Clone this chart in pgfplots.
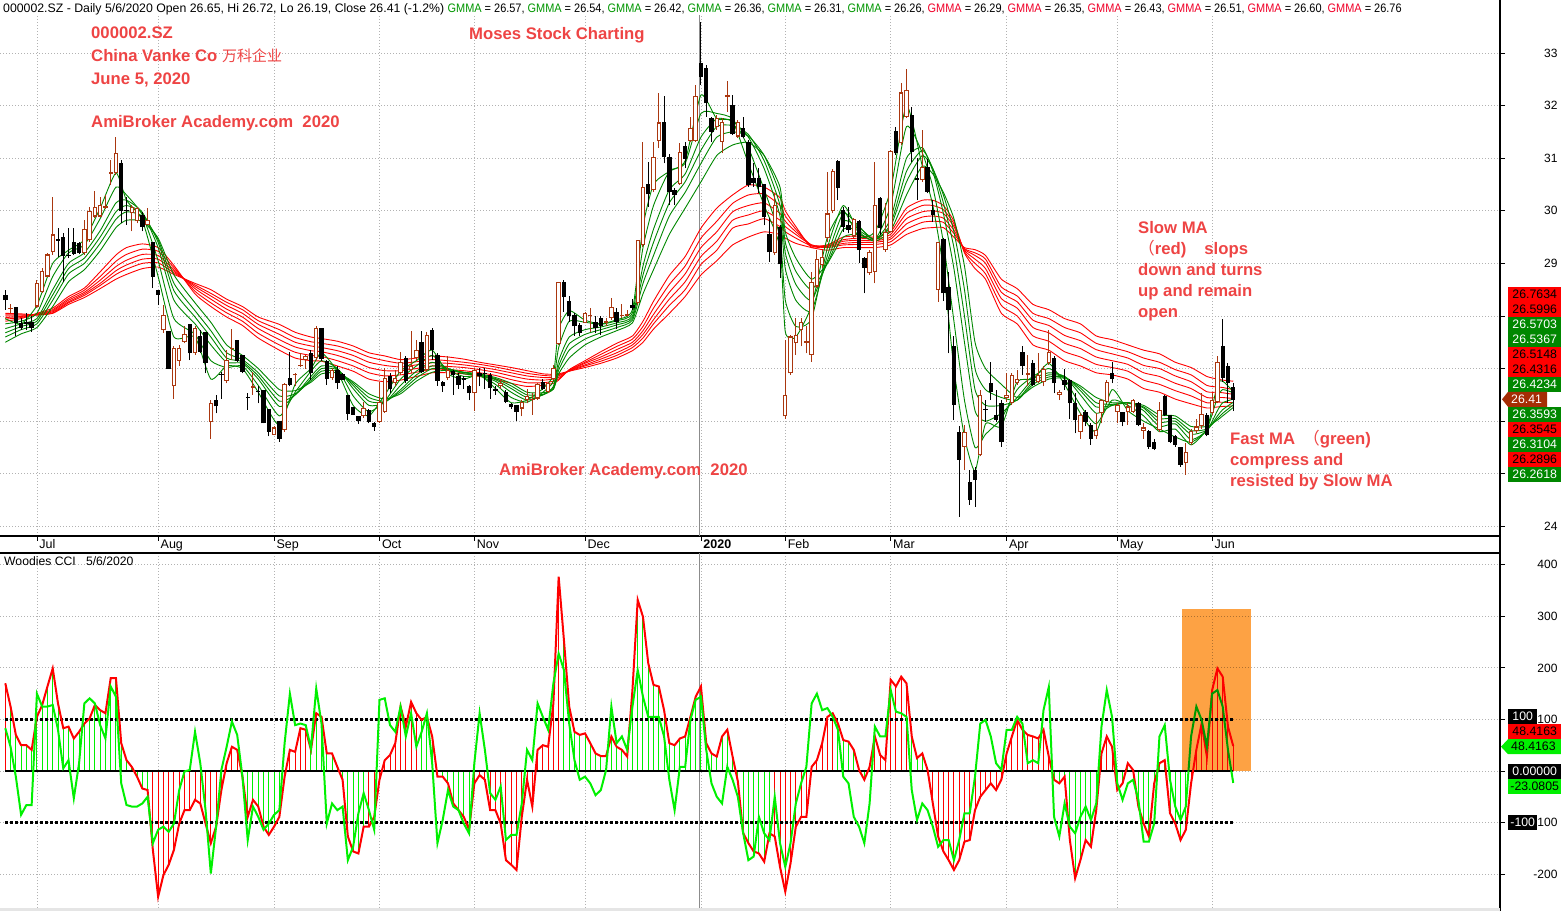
\documentclass[border=0pt]{standalone}
\usepackage{pgfplots}
\pgfplotsset{compat=1.18}
\usepackage{pgfplotstable}
\usepackage{graphicx}
\usepackage{fontspec}
\setmainfont{Liberation Sans}
\newfontfamily\cjk{Noto Sans CJK SC}

\definecolor{candlebrown}{RGB}{170,55,15}
\definecolor{emagreen}{RGB}{0,135,0}
\definecolor{emared}{RGB}{255,0,0}
\definecolor{ccired}{RGB}{255,0,0}
\definecolor{ccigreen}{RGB}{0,240,0}
\definecolor{annot}{RGB}{238,68,68}
\definecolor{hdrgreen}{RGB}{0,150,0}
\definecolor{hdrred}{RGB}{240,0,40}
\definecolor{boxgreen}{RGB}{0,135,0}
\definecolor{boxbrown}{RGB}{165,45,5}
\definecolor{boxorange}{RGB}{253,162,68}

% daily candles: index, open, high, low, close
\pgfplotstableread{
i o h l c
0 28.40 28.50 28.12 28.30
1 28.13 28.22 28.05 28.16
2 28.17 28.18 27.61 27.87
3 27.86 27.96 27.73 27.77
4 27.89 28.05 27.73 27.84
5 27.88 27.99 27.70 27.78
6 28.18 28.69 28.15 28.62
7 28.46 28.92 28.43 28.86
8 28.75 29.19 28.74 29.17
9 29.21 30.26 29.16 29.55
10 29.46 29.67 29.13 29.43
11 29.50 29.57 28.65 29.14
12 29.16 29.67 29.10 29.14
13 29.40 29.67 29.16 29.18
14 29.38 29.40 29.17 29.19
15 29.19 29.83 29.16 29.65
16 29.45 30.08 29.41 29.99
17 29.89 30.37 29.86 30.08
18 29.89 30.27 29.88 30.11
19 30.05 30.30 30.04 30.09
20 30.70 30.97 30.49 30.73
21 30.72 31.40 30.68 31.10
22 30.90 30.97 29.76 29.99
23 30.01 30.27 29.73 29.99
24 29.95 30.11 29.61 30.08
25 29.80 30.08 29.76 30.05
26 29.92 29.98 29.61 29.70
27 29.73 30.05 29.73 29.83
28 29.41 29.41 28.53 28.75
29 28.50 28.50 28.20 28.40
30 27.73 28.21 27.68 28.02
31 27.72 27.72 27.00 27.00
32 26.66 27.42 26.43 27.39
33 27.15 27.45 27.05 27.39
34 27.51 27.80 27.48 27.66
35 27.84 27.84 27.16 27.29
36 27.29 27.80 27.26 27.77
37 27.61 27.73 27.29 27.32
38 27.70 27.70 26.91 27.11
39 25.99 26.40 25.67 26.34
40 26.40 26.50 26.15 26.28
41 26.90 26.94 26.43 26.88
42 26.77 27.35 26.72 27.16
43 27.37 27.75 27.16 27.40
44 27.54 27.54 27.13 27.15
45 27.26 27.26 26.91 26.94
46 26.46 26.53 26.22 26.45
47 26.63 26.94 26.50 26.66
48 26.58 26.67 26.34 26.56
49 26.59 26.60 25.96 25.96
50 26.23 26.23 25.71 25.80
51 25.74 25.90 25.74 25.88
52 26.01 26.01 25.61 25.67
53 25.83 26.72 25.80 26.70
54 26.83 27.32 26.66 26.69
55 26.87 26.91 26.66 26.90
56 27.04 27.29 27.03 27.06
57 27.17 27.26 27.00 27.24
58 27.29 27.36 26.78 26.91
59 27.20 27.80 27.17 27.78
60 27.77 27.77 27.15 27.18
61 27.14 27.16 26.69 26.81
62 26.82 27.01 26.78 26.98
63 26.98 27.05 26.62 26.72
64 26.89 26.91 26.79 26.79
65 26.50 26.50 26.02 26.14
66 26.26 26.27 26.12 26.12
67 26.10 26.10 25.95 26.01
68 26.09 26.37 26.06 26.25
69 26.22 26.23 25.96 25.99
70 25.97 25.99 25.82 25.89
71 25.99 26.75 25.97 26.37
72 26.18 27.01 26.16 26.82
73 26.86 26.91 26.53 26.62
74 26.72 26.97 26.66 26.82
75 26.91 27.32 26.88 27.13
76 27.20 27.23 26.72 26.77
77 26.97 27.71 26.91 27.05
78 27.20 27.54 27.16 27.36
79 27.51 27.71 26.91 26.94
80 26.97 27.70 26.94 27.64
81 27.73 27.77 27.16 27.35
82 27.26 27.29 26.67 26.77
83 26.75 26.77 26.56 26.66
84 26.82 27.23 26.78 26.97
85 26.96 26.97 26.50 26.88
86 26.86 26.91 26.62 26.69
87 26.82 26.85 26.62 26.78
88 26.66 26.69 26.40 26.53
89 26.53 27.01 26.20 26.97
90 26.92 27.02 26.66 26.85
91 26.91 27.01 26.62 26.90
92 26.88 26.91 26.43 26.64
93 26.61 26.66 26.50 26.58
94 26.67 26.81 26.62 26.72
95 26.56 26.59 26.34 26.37
96 26.32 26.34 26.24 26.26
97 26.30 26.31 26.01 26.18
98 26.24 26.40 26.09 26.37
99 26.40 26.62 26.34 26.48
100 26.41 26.53 26.12 26.43
101 26.43 26.72 26.40 26.71
102 26.75 26.80 26.59 26.62
103 26.55 26.75 26.53 26.73
104 26.80 27.07 26.78 27.01
105 27.47 28.65 27.45 28.64
106 28.65 28.69 28.08 28.36
107 28.29 28.38 27.89 27.99
108 28.02 28.05 27.62 27.80
109 27.83 27.86 27.62 27.68
110 27.87 28.08 27.86 28.05
111 28.00 28.15 27.70 28.02
112 27.89 27.99 27.67 27.77
113 27.96 27.99 27.64 27.80
114 27.87 27.96 27.80 27.90
115 27.96 28.34 27.93 28.17
116 28.07 28.15 27.75 27.89
117 27.99 28.22 27.96 28.02
118 28.00 28.12 27.99 28.04
119 28.20 28.32 28.12 28.15
120 28.24 29.45 28.21 29.44
121 29.35 31.31 29.32 30.46
122 30.51 30.93 30.08 30.31
123 30.39 31.31 30.35 31.03
124 31.33 32.23 31.20 31.68
125 31.68 32.18 30.90 31.02
126 31.02 31.07 30.11 30.36
127 30.39 30.43 30.11 30.30
128 30.50 31.28 30.49 31.12
129 31.23 31.31 30.81 30.99
130 31.33 31.79 31.31 31.57
131 31.33 32.39 31.31 32.18
132 32.80 33.59 32.40 32.55
133 32.71 32.78 31.79 32.04
134 31.76 31.79 31.31 31.50
135 31.60 31.82 31.54 31.76
136 31.31 31.76 31.09 31.69
137 32.16 32.47 31.88 32.20
138 32.01 32.20 31.44 31.45
139 31.41 31.73 31.38 31.69
140 31.57 31.79 31.38 31.41
141 31.31 31.35 30.46 30.49
142 30.62 30.90 30.46 30.52
143 30.62 30.81 30.33 30.46
144 30.51 30.51 29.72 29.88
145 29.55 29.86 29.03 29.21
146 29.19 30.33 29.16 30.11
147 29.70 29.73 28.72 28.98
148 26.09 27.54 26.05 26.50
149 26.91 27.63 26.88 27.61
150 27.49 27.96 27.26 27.64
151 27.74 27.96 27.42 27.89
152 27.49 27.80 27.29 27.52
153 27.26 28.84 27.13 28.65
154 28.56 29.26 28.53 29.08
155 28.97 29.26 28.91 29.13
156 29.48 30.73 29.40 29.95
157 29.99 30.80 29.95 30.76
158 30.95 30.97 30.20 30.43
159 30.01 30.08 29.60 29.70
160 29.73 30.08 29.57 29.63
161 29.51 29.86 29.49 29.84
162 29.81 29.83 29.00 29.25
163 29.11 29.13 28.43 28.91
164 28.81 29.25 28.78 29.22
165 28.84 30.93 28.62 30.11
166 30.25 30.27 29.54 29.67
167 29.25 30.14 29.22 29.60
168 29.60 31.16 29.59 31.14
169 31.52 31.60 31.06 31.09
170 31.28 32.42 31.25 32.25
171 31.79 32.70 31.76 32.29
172 31.82 31.98 30.93 31.12
173 30.62 31.00 30.20 30.58
174 30.58 31.54 30.55 30.84
175 30.83 30.98 30.33 30.36
176 30.01 30.20 29.79 29.92
177 28.49 29.40 28.27 29.40
178 29.46 29.48 28.28 28.43
179 28.56 28.84 27.29 28.11
180 27.42 27.61 26.02 26.31
181 25.80 25.90 24.18 25.27
182 25.51 25.93 25.07 25.80
183 24.85 25.07 24.41 24.51
184 25.08 25.13 24.37 24.88
185 25.36 26.59 25.33 26.50
186 26.24 26.40 25.99 26.22
187 26.72 27.13 26.40 26.56
188 26.11 26.59 25.99 26.02
189 26.34 26.40 25.51 25.61
190 26.44 26.91 26.37 26.50
191 26.34 26.91 26.31 26.88
192 26.73 26.97 26.69 26.80
193 27.32 27.42 26.88 27.04
194 26.88 27.26 26.66 26.91
195 27.11 27.16 26.66 26.69
196 26.75 27.29 26.72 26.88
197 26.75 27.04 26.66 27.00
198 27.10 27.73 27.07 27.32
199 27.20 27.23 26.53 26.72
200 26.50 26.59 26.40 26.56
201 26.78 27.00 26.59 26.69
202 26.78 26.81 26.05 26.34
203 26.34 26.53 25.77 26.02
204 25.80 26.15 25.67 26.12
205 26.18 26.21 25.90 25.99
206 25.93 25.96 25.55 25.67
207 25.71 26.15 25.67 25.83
208 26.15 26.43 25.96 26.40
209 26.37 26.78 26.34 26.75
210 26.91 27.13 26.72 26.81
211 26.18 26.34 25.96 26.31
212 26.18 26.18 25.90 25.99
213 26.18 26.34 25.93 26.28
214 26.18 26.43 26.15 26.40
215 26.34 26.37 25.90 25.93
216 25.82 25.96 25.67 25.88
217 25.81 25.83 25.48 25.51
218 25.61 25.67 25.45 25.48
219 25.83 26.37 25.80 26.21
220 26.48 26.50 26.09 26.12
221 26.12 26.12 25.58 25.61
222 25.72 25.74 25.51 25.55
223 25.51 25.51 25.13 25.17
224 25.21 25.58 24.98 25.42
225 25.58 25.86 25.55 25.82
226 25.82 26.05 25.77 25.90
227 25.90 26.53 25.86 26.14
228 26.12 26.15 25.71 25.74
229 26.15 26.53 26.12 26.40
230 26.37 27.23 26.34 27.13
231 27.42 27.95 26.75 26.82
232 27.04 27.10 26.34 26.72
233 26.65 26.72 26.19 26.41
}\candles

% GMMA lines: g1..g6 fast (green), r1..r6 slow (red)
\pgfplotstableread{
i g1 g2 g3 g4 g5 g6 r1 r2 r3 r4 r5 r6
0 27.95 27.85 27.76 27.68 27.60 27.50 27.90 27.94 27.97 28.00 28.02 28.05
3 27.85 27.90 27.85 27.80 27.74 27.66 27.95 27.97 27.99 28.00 28.02 28.04
6 28.20 28.05 27.95 27.90 27.85 27.78 28.05 28.04 28.03 28.02 28.02 28.02
9 29.00 28.75 28.50 28.40 28.30 28.18 28.15 28.12 28.10 28.08 28.06 28.05
12 29.25 29.20 29.00 28.90 28.80 28.65 28.37 28.33 28.30 28.27 28.25 28.22
15 29.45 29.35 29.20 29.10 29.00 28.88 28.53 28.49 28.45 28.42 28.39 28.35
18 30.05 29.85 29.62 29.50 29.38 29.24 28.84 28.75 28.68 28.62 28.58 28.52
21 30.72 30.45 30.15 29.98 29.84 29.68 29.16 29.04 28.94 28.86 28.79 28.70
23 30.20 30.30 30.20 30.10 29.98 29.82 29.30 29.17 29.06 28.97 28.89 28.79
26 29.82 29.92 29.97 29.96 29.90 29.80 29.37 29.27 29.17 29.08 29.00 28.90
29 28.75 29.05 29.30 29.40 29.45 29.48 29.30 29.23 29.15 29.08 29.01 28.93
32 27.60 27.95 28.30 28.48 28.62 28.78 28.96 28.92 28.88 28.85 28.82 28.79
36 27.60 27.65 27.85 27.98 28.10 28.25 28.42 28.47 28.52 28.56 28.59 28.62
39 26.80 27.15 27.45 27.60 27.72 27.88 28.18 28.25 28.32 28.38 28.43 28.50
42 27.05 27.02 27.12 27.20 27.30 27.45 27.98 28.06 28.13 28.20 28.26 28.32
45 27.00 27.05 27.10 27.13 27.17 27.25 27.82 27.90 27.98 28.05 28.12 28.18
48 26.55 26.68 26.80 26.86 26.92 27.00 27.58 27.67 27.76 27.84 27.91 27.98
52 25.92 26.10 26.28 26.38 26.48 26.60 27.35 27.45 27.55 27.65 27.74 27.84
55 26.70 26.55 26.50 26.50 26.52 26.58 27.20 27.31 27.41 27.50 27.59 27.69
58 27.00 26.95 26.85 26.80 26.77 26.74 27.15 27.25 27.34 27.43 27.51 27.60
60 27.30 27.15 27.05 27.00 26.95 26.90 27.14 27.23 27.32 27.40 27.48 27.57
63 26.95 27.00 27.00 26.98 26.95 26.92 27.05 27.15 27.25 27.34 27.43 27.52
66 26.30 26.48 26.62 26.68 26.72 26.75 26.95 27.05 27.15 27.25 27.34 27.43
69 26.10 26.18 26.30 26.38 26.45 26.52 26.80 26.92 27.02 27.12 27.22 27.30
72 26.50 26.38 26.35 26.36 26.38 26.42 26.75 26.86 26.96 27.06 27.15 27.24
75 26.95 26.80 26.68 26.60 26.56 26.52 26.78 26.88 26.96 27.03 27.10 27.17
78 27.15 27.05 26.95 26.88 26.82 26.76 26.85 26.93 27.00 27.07 27.13 27.20
81 27.35 27.25 27.12 27.05 27.00 26.93 26.92 26.99 27.05 27.11 27.17 27.24
84 26.90 26.97 27.00 27.00 26.99 26.97 26.92 26.98 27.04 27.10 27.15 27.22
87 26.80 26.85 26.90 26.92 26.93 26.93 26.90 26.96 27.02 27.07 27.12 27.18
90 26.88 26.86 26.87 26.88 26.89 26.90 26.85 26.92 26.98 27.03 27.08 27.12
93 26.62 26.70 26.76 26.79 26.81 26.83 26.80 26.87 26.93 26.98 27.03 27.07
96 26.35 26.45 26.55 26.62 26.67 26.72 26.72 26.79 26.86 26.92 26.97 27.02
99 26.40 26.36 26.40 26.45 26.50 26.55 26.66 26.73 26.80 26.86 26.91 26.96
102 26.62 26.55 26.50 26.50 26.51 26.54 26.68 26.73 26.78 26.83 26.87 26.90
104 26.88 26.76 26.66 26.63 26.61 26.61 26.72 26.76 26.80 26.83 26.86 26.89
105 27.75 27.40 27.15 27.05 26.97 26.90 26.78 26.80 26.83 26.86 26.88 26.90
107 28.10 27.90 27.60 27.47 27.35 27.20 26.98 26.97 26.96 26.96 26.95 26.95
110 27.92 27.88 27.74 27.65 27.56 27.45 27.15 27.12 27.10 27.07 27.05 27.02
113 27.85 27.84 27.79 27.74 27.68 27.60 27.32 27.27 27.22 27.18 27.14 27.10
116 27.93 27.91 27.87 27.83 27.78 27.72 27.48 27.42 27.36 27.30 27.25 27.20
119 28.12 28.06 28.00 27.96 27.92 27.87 27.62 27.56 27.50 27.45 27.40 27.34
121 29.70 29.30 28.95 28.78 28.62 28.42 27.90 27.80 27.72 27.65 27.58 27.50
123 30.50 30.10 29.65 29.40 29.15 28.88 28.28 28.15 28.03 27.93 27.85 27.75
126 30.75 30.75 30.40 30.15 29.90 29.55 28.77 28.60 28.45 28.32 28.20 28.05
129 30.95 30.90 30.70 30.55 30.35 30.05 29.13 28.95 28.80 28.65 28.50 28.37
132 32.20 31.85 31.40 31.15 30.90 30.55 29.67 29.48 29.30 29.13 28.98 28.78
135 31.75 31.85 31.75 31.60 31.40 31.05 30.05 29.80 29.60 29.42 29.25 29.05
138 31.70 31.75 31.70 31.62 31.50 31.25 30.30 30.14 29.98 29.82 29.67 29.35
141 30.90 31.20 31.40 31.45 31.42 31.30 30.49 30.30 30.10 29.92 29.75 29.50
144 30.10 30.40 30.80 30.95 31.05 31.05 30.45 30.32 30.15 30.00 29.85 29.60
147 29.30 29.50 29.90 30.10 30.30 30.45 30.25 30.10 29.95 29.82 29.70 29.55
148 27.70 28.30 28.90 29.20 29.40 29.60 30.00 29.90 29.80 29.70 29.60 29.48
150 27.60 27.80 28.30 28.60 28.85 29.10 29.70 29.65 29.60 29.55 29.48 29.38
153 28.20 27.95 28.10 28.30 28.50 28.70 29.30 29.33 29.35 29.35 29.33 29.30
156 29.50 29.30 29.15 29.05 29.00 29.00 29.35 29.35 29.33 29.32 29.30 29.25
159 30.00 30.10 29.95 29.80 29.65 29.50 29.50 29.45 29.42 29.38 29.35 29.30
162 29.50 29.60 29.70 29.68 29.62 29.55 29.52 29.48 29.44 29.40 29.36 29.30
165 29.60 29.45 29.45 29.45 29.45 29.42 29.50 29.46 29.43 29.40 29.36 29.30
168 30.40 30.10 29.85 29.75 29.70 29.62 29.60 29.55 29.50 29.46 29.41 29.35
171 32.00 31.60 31.00 30.75 30.55 30.30 30.05 29.95 29.85 29.75 29.65 29.55
174 30.85 31.10 31.20 31.15 31.05 30.85 30.20 30.10 29.98 29.88 29.78 29.66
176 30.10 30.45 30.75 30.80 30.80 30.70 30.20 30.10 30.00 29.90 29.80 29.68
178 28.90 29.40 29.95 30.15 30.30 30.35 30.10 30.02 29.95 29.86 29.78 29.68
180 27.00 27.90 28.90 29.30 29.60 29.85 29.80 29.75 29.70 29.63 29.57 29.50
182 25.70 26.40 27.50 28.00 28.50 28.95 29.20 29.22 29.25 29.27 29.28 29.30
184 25.05 25.50 26.20 26.60 27.00 27.50 28.90 29.00 29.08 29.15 29.20 29.26
186 25.95 25.75 26.00 26.30 26.60 27.00 28.70 28.80 28.90 29.00 29.08 29.15
189 25.90 26.05 26.15 26.30 26.45 26.70 28.05 28.20 28.33 28.45 28.55 28.70
192 26.75 26.60 26.45 26.40 26.40 26.45 27.85 28.00 28.15 28.27 28.38 28.52
195 26.80 26.85 26.80 26.75 26.70 26.65 27.45 27.62 27.78 27.92 28.05 28.22
198 27.10 27.00 26.92 26.88 26.84 26.80 27.35 27.52 27.68 27.82 27.95 28.12
201 26.70 26.80 26.85 26.85 26.84 26.82 27.15 27.32 27.48 27.63 27.78 27.95
204 26.15 26.30 26.50 26.58 26.63 26.67 27.05 27.22 27.38 27.53 27.68 27.85
207 25.80 25.95 26.15 26.27 26.35 26.45 26.92 27.08 27.22 27.36 27.48 27.62
210 26.60 26.40 26.30 26.30 26.32 26.35 26.88 27.02 27.15 27.28 27.40 27.55
213 26.20 26.30 26.35 26.35 26.35 26.35 26.80 26.95 27.08 27.20 27.32 27.45
216 26.00 26.10 26.20 26.25 26.27 26.30 26.62 26.78 26.92 27.06 27.20 27.35
219 25.85 25.80 25.90 25.98 26.05 26.12 26.55 26.70 26.85 27.00 27.12 27.28
222 25.70 25.85 25.95 26.00 26.05 26.10 26.42 26.58 26.72 26.86 26.98 27.12
225 25.60 25.55 25.65 25.75 25.82 25.90 26.33 26.48 26.62 26.75 26.88 27.02
228 25.85 25.85 25.82 25.83 25.85 25.90 26.25 26.35 26.45 26.56 26.68 26.85
230 26.70 26.45 26.20 26.10 26.05 26.02 26.27 26.36 26.45 26.55 26.65 26.80
231 26.76 26.60 26.35 26.22 26.15 26.10 26.28 26.36 26.45 26.54 26.64 26.78
233 26.57 26.54 26.42 26.36 26.31 26.26 26.29 26.35 26.43 26.51 26.60 26.76
}\gmma

% Woodies CCI: cci (red), turbo (green), s = histogram colour (1 green, 0 red)
\pgfplotstableread{
i cci tur s
0 170 83 0
1 125 47 1
2 70 -11 1
3 50 -85 1
4 50 -66 1
5 41 -66 1
6 105 150 1
7 128 125 1
8 164 125 1
9 199 128 1
10 131 80 1
11 83 5 1
12 86 21 1
13 63 -53 1
14 76 15 1
15 92 131 1
16 102 141 1
17 128 131 1
18 118 89 1
19 112 63 1
20 180 164 1
21 180 144 1
22 54 -24 1
23 21 -66 1
24 8 -69 1
25 -11 -69 1
26 -34 -63 1
27 -37 -50 1
28 -153 -140 0
29 -244 -114 0
30 -202 -108 0
31 -182 -118 0
32 -153 -102 0
33 -102 -37 0
34 -76 -1 0
35 -76 2 0
36 -56 76 0
37 -63 15 0
38 -102 -76 0
39 -140 -199 0
40 -108 -108 0
41 -37 2 0
42 15 47 0
43 47 96 0
44 41 70 0
45 -11 -11 1
46 -89 -134 1
47 -56 -69 1
48 -69 -89 1
49 -108 -114 1
50 -124 -102 1
51 -108 -85 1
52 -89 -76 1
53 -11 54 1
54 41 150 0
55 37 89 0
56 83 92 0
57 80 89 0
58 41 44 1
59 112 160 1
60 105 92 1
61 34 -102 1
62 34 -63 1
63 8 -76 1
64 -17 -69 1
65 -127 -173 1
66 -156 -147 1
67 -160 -82 1
68 -108 -43 1
69 -108 -76 0
70 -89 -114 0
71 -17 138 0
72 21 141 0
73 31 89 0
74 54 76 0
75 125 125 0
76 86 67 0
77 134 112 0
78 112 47 0
79 99 76 1
80 105 112 1
81 67 15 1
82 -11 -140 1
83 -11 -95 1
84 -24 -37 1
85 -63 -69 1
86 -76 -76 1
87 -89 -102 1
88 -114 -121 1
89 -24 15 0
90 -8 112 0
91 -17 41 0
92 -76 -43 0
93 -76 -56 0
94 -102 -30 0
95 -173 -134 0
96 -182 -124 0
97 -192 -124 0
98 -89 -63 0
99 -17 41 0
100 -69 21 0
101 41 131 0
102 50 105 0
103 47 80 0
104 131 170 0
105 377 228 0
106 254 196 1
107 125 92 1
108 76 21 1
109 70 -17 1
110 73 -11 1
111 54 -24 1
112 34 -47 1
113 29 -37 1
114 29 2 1
115 67 125 1
116 47 54 1
117 41 67 1
118 28 41 1
119 157 125 1
120 332 196 1
121 299 144 1
122 209 105 1
123 167 105 1
124 164 105 1
125 118 67 1
126 54 -17 1
127 50 -76 1
128 63 8 1
129 67 8 1
130 105 99 1
131 144 138 1
132 164 144 1
133 54 41 1
134 34 -24 1
135 28 -50 1
136 67 -63 1
137 80 8 1
138 28 -17 1
139 -20 -50 1
140 -120 -120 1
141 -140 -173 1
142 -156 -166 1
143 -160 -89 1
144 -176 -121 1
145 -121 -134 1
146 -127 -50 0
147 -186 -140 0
148 -234 -186 0
149 -179 -140 0
150 -108 -63 0
151 -89 -24 0
152 -89 8 0
153 8 131 0
154 21 150 0
155 54 118 0
156 105 122 0
157 112 105 0
158 92 80 1
159 60 -11 1
160 57 -24 1
161 41 -89 1
162 2 -108 1
163 -17 -140 1
164 8 -63 0
165 67 86 0
166 31 67 0
167 21 67 0
168 177 157 0
169 164 115 0
170 183 112 0
171 170 105 0
172 67 -37 1
173 25 -95 1
174 34 -63 1
175 2 -76 0
176 -63 -108 0
177 -127 -147 0
178 -156 -134 0
179 -173 -134 0
180 -192 -173 0
181 -173 -134 0
182 -137 -82 0
183 -134 -82 0
184 -76 -11 0
185 -50 92 0
186 -37 99 0
187 -24 67 0
188 -37 15 0
189 -17 2 0
190 34 80 0
191 67 80 0
192 99 105 0
193 80 92 0
194 70 15 0
195 67 21 0
196 63 15 0
197 80 118 0
198 28 163 0
199 -17 -89 1
200 -24 -127 1
201 -11 -63 1
202 -134 -108 1
203 -208 -121 1
204 -173 -89 1
205 -134 -69 1
206 -147 -95 1
207 -76 -63 1
208 34 86 0
209 67 157 0
210 47 105 0
211 -37 -24 1
212 -24 -56 1
213 15 -24 1
214 2 -17 1
215 -69 -56 1
216 -102 -137 1
217 -127 -137 1
218 -24 -102 1
219 15 67 1
220 21 89 1
221 -82 -17 1
222 -102 -69 1
223 -134 -95 1
224 -114 -69 1
225 -24 67 0
226 41 125 0
227 92 99 0
228 28 47 0
229 157 150 0
230 199 157 0
231 183 125 0
232 86 41 0
233 48.4 -23.1 0
}\cci

\pgfplotsset{
  chartbase/.style={
    scale only axis, width=1500pt,
    xmin=-1.006, xmax=283.62,
    axis y line*=right,
    axis line style={-, line width=1.1pt},
    every outer x axis line/.append style={-},
    every outer y axis line/.append style={-},
    xtick={6,29,51,71,89,110,132,148,168,190,211,229},
    tick align=outside,
    major tick length=5pt,
    ytick style={black, line width=0.8pt},
    yticklabel pos=right,
    yticklabel style={anchor=east, xshift=56pt, font=\fontsize{12}{14}\selectfont},
    /pgf/number format/assume math mode=true,
    grid=major,
    major grid style={black!30, dash pattern=on 1pt off 2pt, line width=0.8pt},
  },
}

\newcommand{\ann}[3]{\node[anchor=base west, inner sep=0pt, text=annot,
  font=\fontsize{16.7}{18}\selectfont\bfseries] at (#1pt, 911pt-#2pt) {#3};}
\newcommand{\valbox}[5]{\node[fill=#3, text=#4, anchor=west, minimum width=#2pt,
  minimum height=15pt, inner sep=0pt, font=\fontsize{12.3}{13}\selectfont]
  at (1508pt, 911pt-#1pt) {#5};}
\newcommand{\gmG}{\textcolor{hdrgreen}{GMMA}}
\newcommand{\gmR}{\textcolor{hdrred}{GMMA}}

\begin{document}
\begin{tikzpicture}
\path[use as bounding box] (0,0) rectangle (1561pt,911pt);

% ---------- price panel ----------
\begin{axis}[chartbase,
  at={(0pt,375pt)}, anchor=south west, height=521pt,
  ymin=23.817, ymax=33.722,
  axis x line*=bottom,
  xticklabels={Jul,Aug,Sep,Oct,Nov,Dec,\textbf{2020},Feb,Mar,Apr,May,Jun},
  xtick style={black, line width=0.8pt},
  xticklabel style={anchor=north west, xshift=-1pt, yshift=5pt, font=\fontsize{12.5}{14}\selectfont},
  ytick={24,25,...,33},
]
\addplot[black!45, line width=1pt, forget plot] coordinates {(131.8,23.817) (131.8,33.722)};

% slow and fast GMMA
\addplot[emared, line width=0.9pt, smooth, tension=0.35] table[x=i, y=r1] {\gmma};
\addplot[emared, line width=0.9pt, smooth, tension=0.35] table[x=i, y=r2] {\gmma};
\addplot[emared, line width=0.9pt, smooth, tension=0.35] table[x=i, y=r3] {\gmma};
\addplot[emared, line width=0.9pt, smooth, tension=0.35] table[x=i, y=r4] {\gmma};
\addplot[emared, line width=0.9pt, smooth, tension=0.35] table[x=i, y=r5] {\gmma};
\addplot[emared, line width=0.9pt, smooth, tension=0.35] table[x=i, y=r6] {\gmma};
\addplot[emagreen, line width=0.9pt, smooth, tension=0.35] table[x=i, y=g1] {\gmma};
\addplot[emagreen, line width=0.9pt, smooth, tension=0.35] table[x=i, y=g2] {\gmma};
\addplot[emagreen, line width=0.9pt, smooth, tension=0.35] table[x=i, y=g3] {\gmma};
\addplot[emagreen, line width=0.9pt, smooth, tension=0.35] table[x=i, y=g4] {\gmma};
\addplot[emagreen, line width=0.9pt, smooth, tension=0.35] table[x=i, y=g5] {\gmma};
\addplot[emagreen, line width=0.9pt, smooth, tension=0.35] table[x=i, y=g6] {\gmma};

% candles: wicks, then bodies (up = hollow brown, down = solid black)
\addplot[draw=none, mark=none, restrict expr to domain={\thisrow{c}-\thisrow{o}}{0:100},
  error bars/.cd, y dir=plus, y explicit, error mark=none,
  error bar style={draw=candlebrown, line width=1pt}]
  table[x=i, y=l, y error plus expr={\thisrow{h}-\thisrow{l}}] {\candles};
\addplot[draw=none, mark=none, restrict expr to domain={\thisrow{c}-\thisrow{o}}{-100:0},
  error bars/.cd, y dir=plus, y explicit, error mark=none,
  error bar style={draw=black, line width=1pt}]
  table[x=i, y=l, y error plus expr={\thisrow{h}-\thisrow{l}}] {\candles};
\addplot[draw=none, mark=none, restrict expr to domain={\thisrow{c}-\thisrow{o}}{0:100},
  error bars/.cd, y dir=plus, y explicit, error mark=none,
  error bar style={draw=candlebrown, line width=4.4pt}]
  table[x=i, y=o, y error plus expr={\thisrow{c}-\thisrow{o}}] {\candles};
\addplot[draw=none, mark=none, restrict expr to domain={\thisrow{c}-\thisrow{o}}{0:100},
  error bars/.cd, y dir=plus, y explicit, error mark=none,
  error bar style={draw=white, line width=2.4pt}]
  table[x=i, y expr={\thisrow{o}+0.021}, y error plus expr={max(\thisrow{c}-\thisrow{o}-0.042,0)}] {\candles};
\addplot[draw=none, mark=none, restrict expr to domain={\thisrow{c}-\thisrow{o}}{-100:0},
  error bars/.cd, y dir=plus, y explicit, error mark=none,
  error bar style={draw=black, line width=4.4pt}]
  table[x=i, y=c, y error plus expr={\thisrow{o}-\thisrow{c}}] {\candles};
\end{axis}

% ---------- CCI panel ----------
\begin{axis}[chartbase,
  at={(0pt,3pt)}, anchor=south west, height=355pt,
  ymin=-265.8, ymax=422.9,
  axis x line*=top,
  xticklabels={}, xtick style={draw=none},
  ytick={-200,-100,...,400},
]
\addplot[black!45, line width=1pt, forget plot] coordinates {(131.8,-265.8) (131.8,422.9)};
\addplot[ycomb, ccigreen, line width=1pt, mark=none, restrict expr to domain={\thisrow{s}}{1:1}]
  table[x=i, y=cci] {\cci};
\addplot[ycomb, ccired, line width=1pt, mark=none, restrict expr to domain={\thisrow{s}}{0:0}]
  table[x=i, y=cci] {\cci};
\addplot[black, line width=2.4pt, dash pattern=on 3pt off 2pt] coordinates {(0,100) (233,100)};
\addplot[black, line width=2.4pt, dash pattern=on 3pt off 2pt] coordinates {(0,-100) (233,-100)};
\addplot[black, line width=2.2pt] coordinates {(0,0) (233,0)};
\addplot[ccired, line width=2pt] table[x=i, y=cci] {\cci};
\addplot[ccigreen, line width=2pt] table[x=i, y=tur] {\cci};
\fill[boxorange, blend mode=multiply] (axis cs:223.3,0) rectangle (axis cs:236.4,314);
\end{axis}

% frame pieces
\draw[black, line width=1.1pt] (1500pt,0pt) -- (1500pt,911pt);
\fill[black!10] (0pt,0pt) rectangle (1500pt,3pt);

% header line
\node[anchor=base west, inner sep=0pt, font=\fontsize{12.3}{14}\selectfont] at (3pt, 911pt-13pt)
  {000002.SZ - Daily 5/6/2020 Open 26.65, Hi 26.72, Lo 26.19, Close 26.41 (-1.2\%) \scalebox{0.89}[1]{\gmG{} = 26.57, \gmG{} = 26.54, \gmG{} = 26.42, \gmG{} = 26.36, \gmG{} = 26.31, \gmG{} = 26.26, \gmR{} = 26.29, \gmR{} = 26.35, \gmR{} = 26.43, \gmR{} = 26.51, \gmR{} = 26.60, \gmR{} = 26.76}};
\node[anchor=base west, inner sep=0pt, font=\fontsize{12.2}{14}\selectfont] at (4pt, 911pt-566pt)
  {Woodies CCI\ \ \ 5/6/2020};

% annotations
\ann{91}{38.3}{000002.SZ}
\ann{91}{61.7}{China Vanke Co \textcolor{annot}{\cjk\mdseries\fontsize{15}{16}\selectfont 万科企业}}
\ann{91}{85}{June 5, 2020}
\ann{91}{127.3}{AmiBroker Academy.com\ \ 2020}
\ann{469}{39.3}{Moses Stock Charting}
\ann{499}{475.5}{AmiBroker Academy.com\ \ 2020}
\ann{1138}{233.3}{Slow MA}
\ann{1138}{254.5}{{\cjk\mdseries （}red)\hspace{18pt}slops}
\ann{1138}{275.8}{down and turns}
\ann{1138}{297}{up and remain}
\ann{1138}{318}{open}
\ann{1230}{445}{Fast MA\hspace{8pt}{\cjk\mdseries （}green)}
\ann{1230}{465.7}{compress and}
\ann{1230}{486.7}{resisted by Slow MA}

% GMMA value boxes
\valbox{294.3}{53}{red}{black}{26.7634}
\valbox{309.3}{53}{red}{black}{26.5996}
\valbox{324.3}{53}{boxgreen}{white}{26.5703}
\valbox{339.3}{53}{boxgreen}{white}{26.5367}
\valbox{354.3}{53}{red}{black}{26.5148}
\valbox{369.3}{53}{red}{black}{26.4316}
\valbox{384.3}{53}{boxgreen}{white}{26.4234}
\fill[boxbrown] (1502pt,911pt-399.3pt) -- (1508pt,911pt-391.8pt) -- (1547pt,911pt-391.8pt)
  -- (1547pt,911pt-406.8pt) -- (1508pt,911pt-406.8pt) -- cycle;
\node[anchor=west, text=white, inner sep=0pt, font=\fontsize{12.3}{13}\selectfont] at (1511pt,911pt-399.3pt) {26.41};
\valbox{414.3}{53}{boxgreen}{white}{26.3593}
\valbox{429.3}{53}{red}{black}{26.3545}
\valbox{444.3}{53}{boxgreen}{white}{26.3104}
\valbox{459.3}{53}{red}{black}{26.2896}
\valbox{474.3}{53}{boxgreen}{white}{26.2618}

% CCI value boxes
\valbox{716.7}{29}{black}{white}{100}
\valbox{731.7}{53}{red}{black}{48.4163}
\fill[ccigreen] (1501pt,911pt-746.7pt) -- (1508pt,911pt-739.2pt) -- (1561pt,911pt-739.2pt)
  -- (1561pt,911pt-754.2pt) -- (1508pt,911pt-754.2pt) -- cycle;
\node[anchor=west, text=black, inner sep=0pt, font=\fontsize{12.3}{13}\selectfont] at (1511pt,911pt-746.7pt) {48.4163};
\valbox{771}{53}{black}{white}{0.00000}
\valbox{786}{53}{ccigreen}{black}{-23.0805}
\valbox{822.3}{29}{black}{white}{-100}
\end{tikzpicture}
\end{document}
